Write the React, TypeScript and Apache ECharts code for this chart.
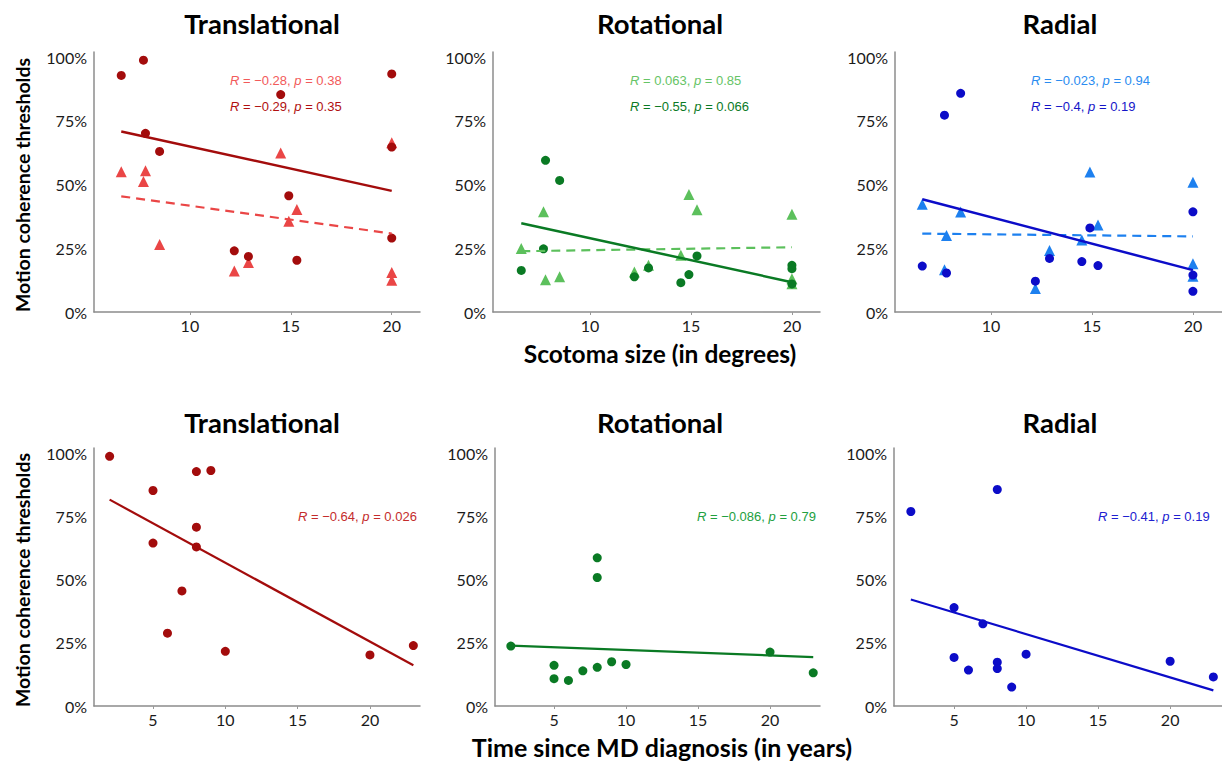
import React, { useEffect, useRef } from "react";
import * as echarts from "echarts";

// ---------- data ----------
const scotomaSize = [6.6, 7.7, 7.8, 8.5, 12.2, 12.9, 14.5, 14.9, 15.3, 20, 20, 20];
// circles (dark) and triangles (light), % thresholds, same order as scotomaSize
const transCircles = [92.8, 98.8, 70.1, 63.0, 24.0, 21.8, 85.3, 45.6, 20.3, 93.4, 64.7, 29.0];
const transTriangles = [55.0, 51.2, 55.4, 26.5, 16.1, 19.4, 62.4, 35.6, 40.2, 66.4, 15.5, 12.5];
const rotCircles = [16.3, 24.8, 59.5, 51.6, 13.8, 17.3, 11.5, 14.7, 22.0, 18.3, 17.0, 11.0];
const rotTriangles = [24.9, 39.3, 12.7, 13.8, 15.7, 18.3, 22.3, 46.1, 40.1, 38.3, 13.0, 11.1];
const radCircles = [18.0, 77.2, 15.3, 85.8, 12.1, 21.0, 19.8, 33.0, 18.2, 39.3, 14.5, 8.1];
const radTriangles = [42.3, 16.6, 30.0, 39.2, 9.2, 24.1, 28.2, 54.9, 34.1, 50.9, 18.9, 14.0];

const diagnosisYears = [2, 5, 5, 6, 7, 8, 8, 8, 9, 10, 20, 23];
const transTime = [98.7, 85.2, 64.4, 28.8, 45.5, 92.7, 70.7, 62.9, 93.1, 21.6, 20.2, 23.9];
const rotTime = [23.7, 16.1, 10.8, 10.1, 13.9, 58.6, 50.8, 15.3, 17.5, 16.4, 21.3, 13.1];
const radTime = [76.9, 38.9, 19.2, 14.2, 32.5, 85.6, 17.3, 14.8, 7.5, 20.5, 17.7, 11.5];

const panelTitles = ["Translational", "Rotational", "Radial"];
const yTicks = [0, 25, 50, 75, 100];
const scotomaTicks = [10, 15, 20];
const timeTicks = [5, 10, 15, 20];

const triR = ["−0.28", "0.063", "−0.023"];
const triP = ["0.38", "0.85", "0.94"];
const cirR = ["−0.29", "−0.55", "−0.4"];
const cirP = ["0.35", "0.066", "0.19"];
const timeR = ["−0.64", "−0.086", "−0.41"];
const timeP = ["0.026", "0.79", "0.19"];

const yAxisName = "Motion coherence thresholds";
const xNameTop = "Scotoma size (in degrees)";
const xNameBottom = "Time since MD diagnosis (in years)";

// ---------- style ----------
const darkColors = ["#a30c0c", "#0a7a24", "#0c0cc8"];
const lightColors = ["#ea4646", "#5cc05c", "#1d80ef"];
const lightText = ["#f25a5a", "#66c466", "#2a8cf0"];
const darkText = ["#b01010", "#0a7a25", "#1414c8"];
const bottomText = ["#c42c2c", "#22a040", "#2020d0"];

function fitLine(xs: number[], ys: number[]) {
  const n = xs.length;
  const mx = xs.reduce((a, b) => a + b, 0) / n;
  const my = ys.reduce((a, b) => a + b, 0) / n;
  let sxy = 0;
  let sxx = 0;
  for (let i = 0; i < n; i++) {
    sxy += (xs[i] - mx) * (ys[i] - my);
    sxx += (xs[i] - mx) * (xs[i] - mx);
  }
  const b = sxy / sxx;
  const a = my - b * mx;
  const x0 = Math.min(...xs);
  const x1 = Math.max(...xs);
  return [
    [x0, a + b * x0],
    [x1, a + b * x1],
  ];
}

const zip = (xs: number[], ys: number[]) => xs.map((x, i) => [x, ys[i]]);

export default function App() {
  const ref = useRef<HTMLDivElement>(null);
  useEffect(() => {
    document.body.style.margin = "0";
    const chart = echarts.init(ref.current!, undefined, { renderer: "svg" });

    const topLayout = [
      { left: 94, width: 326, min: 5.25, max: 21.4 },
      { left: 493, width: 327, min: 5.2, max: 21.39 },
      { left: 895, width: 327, min: 5.25, max: 21.44 },
    ];
    const bottomLayout = [
      { left: 94, width: 326, min: 0.92, max: 23.46 },
      { left: 495, width: 325, min: 0.9, max: 23.47 },
      { left: 894, width: 328, min: 0.83, max: 23.6 },
    ];

    const grids: any[] = [];
    const xAxes: any[] = [];
    const yAxes: any[] = [];
    const series: any[] = [];

    const axisLineStyle = { color: "#8c8c8c", width: 1.5 };
    const labelFont = { fontFamily: "Lato", fontSize: 16, color: "#1a1a1a" };

    const addPanel = (
      layout: any,
      top: number,
      height: number,
      ticks: number[]
    ) => {
      const idx = grids.length;
      grids.push({ left: layout.left, width: layout.width, top, height, containLabel: false });
      xAxes.push({
        gridIndex: idx,
        type: "value",
        min: layout.min,
        max: layout.max,
        axisLine: { show: true, onZero: false, lineStyle: axisLineStyle },
        axisTick: { show: true, length: 3, customValues: ticks, lineStyle: { color: "#999" } },
        axisLabel: { ...labelFont, margin: 5, customValues: ticks },
        splitLine: { show: false },
      });
      yAxes.push({
        gridIndex: idx,
        type: "value",
        min: 0,
        max: 102,
        axisLine: { show: true, onZero: false, lineStyle: axisLineStyle },
        axisTick: { show: false },
        axisLabel: {
          ...labelFont,
          margin: 7,
          customValues: yTicks,
          formatter: (v: number) => `${v}%`,
        },
        splitLine: { show: false },
      });
      return idx;
    };

    const topTri = [transTriangles, rotTriangles, radTriangles];
    const topCir = [transCircles, rotCircles, radCircles];
    const bottomData = [transTime, rotTime, radTime];

    for (let k = 0; k < 3; k++) {
      const gi = addPanel(topLayout[k], 52, 260, scotomaTicks);
      series.push({
        type: "scatter",
        xAxisIndex: gi,
        yAxisIndex: gi,
        symbol: "triangle",
        symbolSize: 11,
        itemStyle: { color: lightColors[k], opacity: 1 },
        data: zip(scotomaSize, topTri[k]),
        z: 2,
      });
      series.push({
        type: "scatter",
        xAxisIndex: gi,
        yAxisIndex: gi,
        symbol: "circle",
        symbolSize: 9,
        itemStyle: { color: darkColors[k], opacity: 1 },
        data: zip(scotomaSize, topCir[k]),
        z: 3,
      });
      series.push({
        type: "line",
        xAxisIndex: gi,
        yAxisIndex: gi,
        showSymbol: false,
        lineStyle: { color: lightColors[k], width: 2.2, type: [9, 6] },
        data: fitLine(scotomaSize, topTri[k]),
        z: 4,
      });
      series.push({
        type: "line",
        xAxisIndex: gi,
        yAxisIndex: gi,
        showSymbol: false,
        lineStyle: { color: darkColors[k], width: 2.5 },
        data: fitLine(scotomaSize, topCir[k]),
        z: 4,
      });
    }
    for (let k = 0; k < 3; k++) {
      const gi = addPanel(bottomLayout[k], 448, 258, timeTicks);
      series.push({
        type: "scatter",
        xAxisIndex: gi,
        yAxisIndex: gi,
        symbol: "circle",
        symbolSize: 9,
        itemStyle: { color: darkColors[k], opacity: 1 },
        data: zip(diagnosisYears, bottomData[k]),
        z: 3,
      });
      series.push({
        type: "line",
        xAxisIndex: gi,
        yAxisIndex: gi,
        showSymbol: false,
        lineStyle: { color: darkColors[k], width: 2.2 },
        data: fitLine(diagnosisYears, bottomData[k]),
        z: 4,
      });
    }

    const titleCenters = [262, 660, 1060];
    const statLeft = [230, 630, 1031];
    const statLeftBottom = [298, 697, 1098];

    const statText = (x: number, y: number, r: string, p: string, color: string) => ({
      type: "text",
      x,
      y,
      style: {
        text: `{i|R} = ${r}, {i|p} = ${p}`,
        fill: color,
        font: "13px 'Liberation Sans', Arial, sans-serif",
        verticalAlign: "middle",
        rich: {
          i: {
            fontStyle: "italic",
            fill: color,
            fontSize: 13,
            fontFamily: "Liberation Sans",
          },
        },
      },
    });

    const bold = (x: number, y: number, text: string, size: number, rotation = 0) => ({
      type: "text",
      x,
      y,
      rotation,
      style: {
        text,
        font: `bold ${size}px Lato`,
        fill: "#000",
        align: "center",
        verticalAlign: "middle",
      },
    });

    const graphics: any[] = [];
    for (let k = 0; k < 3; k++) {
      graphics.push(bold(titleCenters[k], 23, panelTitles[k], 27.5));
      graphics.push(bold(titleCenters[k], 422, panelTitles[k], 27.5));
      graphics.push(statText(statLeft[k], 80, triR[k], triP[k], lightText[k]));
      graphics.push(statText(statLeft[k], 106, cirR[k], cirP[k], darkText[k]));
      graphics.push(statText(statLeftBottom[k], 516, timeR[k], timeP[k], bottomText[k]));
    }
    graphics.push(bold(22, 185, yAxisName, 19.5, Math.PI / 2));
    graphics.push(bold(22, 580, yAxisName, 19.5, Math.PI / 2));
    graphics.push(bold(660, 353, xNameTop, 24.5));
    graphics.push(bold(662, 747, xNameBottom, 25));

    chart.setOption({
      animation: false,
      backgroundColor: "#fff",
      grid: grids,
      xAxis: xAxes,
      yAxis: yAxes,
      series,
      graphic: graphics,
    });
    return () => chart.dispose();
  }, []);
  return <div ref={ref} style={{ width: 1222, height: 762 }} />;
}
